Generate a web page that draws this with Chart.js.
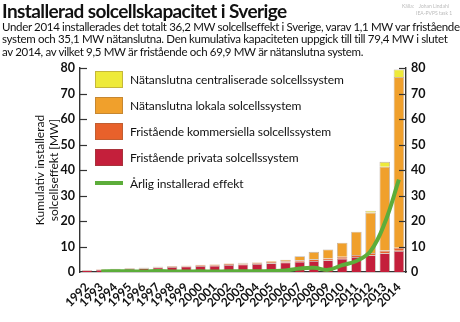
<!DOCTYPE html>
<html>
<head>
<meta charset="utf-8">
<script src="https://cdn.jsdelivr.net/npm/chart.js@4.4.1/dist/chart.umd.min.js"></script>
<style>
  html, body { margin: 0; padding: 0; background: #fff; }
  body { width: 460px; height: 322px; position: relative; overflow: hidden; font-family: Lato, sans-serif; color: #111; }
  #wrap { position: absolute; left: 0; top: 0; width: 460px; height: 322px; }
  #title { position: absolute; left: 2px; top: 0px; font-size: 19px; line-height: 22px; font-weight: 700; letter-spacing: -0.6px; white-space: nowrap; }
  #sub { position: absolute; left: 2px; top: 21px; font-size: 11.5px; line-height: 12.4px; letter-spacing: -0.33px; white-space: nowrap; }
  #credit { position: absolute; left: 402px; top: 3px; font-size: 5px; line-height: 7px; color: #bbb; }
  #legend { position: absolute; left: 95px; top: 66px; font-size: 12px; letter-spacing: -0.1px; }
  .li { display: flex; align-items: center; height: 26px; }
  .sw { width: 28px; height: 17px; margin-right: 7px; box-sizing: border-box; border: 1px solid rgba(120,90,60,0.35); }
  .ln { width: 28px; height: 4px; margin-right: 7px; }
</style>
</head>
<body>
<div id="wrap"><canvas id="c" width="460" height="322"></canvas></div>
<div id="title">Installerad solcellskapacitet i Sverige</div>
<div id="sub">Under 2014 installerades det totalt 36,2 MW solcellseffekt i Sverige, varav 1,1 MW var fristående<br>system och 35,1 MW nätanslutna. Den kumulativa kapaciteten uppgick till till 79,4 MW i slutet<br>av 2014, av vilket 9,5 MW är fristående och 69,9 MW är nätanslutna system.</div>
<div id="credit">Källa:&nbsp;&nbsp;&nbsp;&nbsp;Johan Lindahl<br>&nbsp;&nbsp;&nbsp;&nbsp;&nbsp;&nbsp;&nbsp;&nbsp;&nbsp;&nbsp;&nbsp;IEA-PVPS task 1</div>
<div id="legend"></div>
<script>
// data, MW (kumulativt)
const years = ['1992','1993','1994','1995','1996','1997','1998','1999','2000','2001','2002','2003',
               '2004','2005','2006','2007','2008','2009','2010','2011','2012','2013','2014'];
const privata = [0.70, 0.90, 1.12, 1.33, 1.45, 1.75, 1.95, 2.13, 2.33, 2.50, 2.75, 2.95,
                 3.20, 3.45, 3.70, 4.00, 4.30, 4.60, 5.20, 5.90, 6.60, 7.40, 8.30];
const kommersiella = [0.10, 0.13, 0.17, 0.20, 0.22, 0.28, 0.30, 0.32, 0.35, 0.37, 0.40, 0.43,
                      0.45, 0.50, 0.55, 0.60, 0.70, 0.70, 0.80, 0.80, 0.90, 1.00, 1.20];
const lokala = [0, 0, 0.02, 0.05, 0.07, 0.10, 0.12, 0.13, 0.15, 0.15, 0.17, 0.20,
                0.20, 0.30, 0.60, 1.60, 2.90, 3.50, 5.50, 9.10, 15.80, 32.90, 67.00];
const centrala = [0, 0, 0, 0, 0, 0, 0, 0, 0, 0, 0, 0,
                  0, 0, 0, 0, 0, 0, 0, 0, 0.70, 1.90, 2.90];
const arlig = [null, 0.23, 0.28, 0.27, 0.16, 0.39, 0.24, 0.21, 0.25, 0.19, 0.30, 0.26,
               0.27, 0.39, 0.61, 1.39, 1.67, 0.85, 2.69, 4.30, 8.20, 19.20, 36.20];
const yTicks = [0, 10, 20, 30, 40, 50, 60, 70, 80];

const outline = 'rgba(110,80,55,0.45)';
const barOpts = { stack: 'kap', barPercentage: 0.74, categoryPercentage: 1, borderColor: outline, borderWidth: 0.8 };

const datasets = [
    { type: 'line', label: 'Årlig installerad effekt', data: arlig, stack: 'linje', borderColor: '#5cad3a',
      backgroundColor: '#5cad3a', borderWidth: 4, pointRadius: 0, tension: 0.4, order: 0, legendLine: true },
    { label: 'Fristående privata solcellssystem', data: privata, backgroundColor: '#c41f3b', order: 1, ...barOpts },
    { label: 'Fristående kommersiella solcellssystem', data: kommersiella, backgroundColor: '#e8612b', order: 1, ...barOpts },
    { label: 'Nätanslutna lokala solcellssystem', data: lokala, backgroundColor: '#f0a02c', order: 1, ...barOpts },
    { label: 'Nätanslutna centraliserade solcellssystem', data: centrala, backgroundColor: '#eeea3a', order: 1, ...barOpts }
];

// tickmarks pekar in i diagrammet
const innerTicks = {
    id: 'innerTicks',
    afterDraw(chart) {
        const ctx = chart.ctx;
        const yl = chart.scales.y, yr = chart.scales.y2;
        ctx.save();
        ctx.strokeStyle = '#333';
        ctx.lineWidth = 1.2;
        yTicks.forEach(v => {
            const py = Math.round(yl.getPixelForValue(v)) + 0.5;
            if (v === 0) return;
            ctx.beginPath(); ctx.moveTo(yl.right, py); ctx.lineTo(yl.right + 7, py); ctx.stroke();
            ctx.beginPath(); ctx.moveTo(yr.left, py); ctx.lineTo(yr.left - 7, py); ctx.stroke();
        });
        ctx.restore();
    }
};

const tickFont = { family: 'Lato', size: 12.5, weight: '700' };

new Chart(document.getElementById('c'), {
    type: 'bar',
    data: { labels: years, datasets: datasets },
    options: {
        responsive: false,
        animation: false,
        layout: { padding: { top: 68, bottom: 0, left: 0, right: 0 } },
        plugins: { legend: { display: false }, tooltip: { enabled: false } },
        scales: {
            x: {
                stacked: true,
                grid: { display: false },
                border: { color: '#333', width: 1.2 },
                ticks: { color: '#111', font: { family: 'Lato', size: 12, weight: '700' }, maxRotation: 45, minRotation: 45, autoSkip: false, padding: 0 },
                afterFit(s) { s.height = 50; }
            },
            y: {
                stacked: true, min: 0, max: 80,
                grid: { display: false, drawTicks: false },
                border: { color: '#333', width: 1.4 },
                ticks: { stepSize: 10, color: '#111', font: tickFont, padding: 5 },
                title: { display: true, text: ['Kumulativ installerad', 'solcellseffekt [MW]'], color: '#111',
                         font: { family: 'Lato', size: 12 }, padding: { top: 33, bottom: 0 }, lineHeight: 1.0 },
                afterFit(s) { s.width = 80; }
            },
            y2: {
                position: 'right', min: 0, max: 80,
                grid: { display: false, drawTicks: false },
                border: { color: '#333', width: 1.4 },
                ticks: { stepSize: 10, color: '#111', font: tickFont, padding: 5 },
                afterFit(s) { s.width = 54; }
            }
        }
    },
    plugins: [innerTicks]
});

// legend
const leg = document.getElementById('legend');
[4, 3, 2, 1, 0].forEach(i => {
    const d = datasets[i];
    const row = document.createElement('div');
    row.className = 'li';
    const sw = document.createElement('span');
    sw.className = d.legendLine ? 'ln' : 'sw';
    sw.style.background = d.backgroundColor;
    row.appendChild(sw);
    row.appendChild(document.createTextNode(d.label));
    leg.appendChild(row);
});
</script>
</body>
</html>
